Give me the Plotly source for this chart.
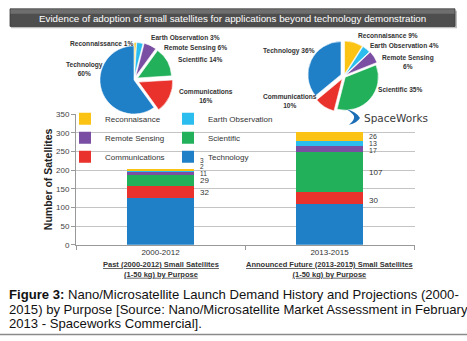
import plotly.graph_objects as go

W, H = 467, 341

# ---------------- data ----------------
periods = ["2000-2012", "2013-2015"]
purposes = ["Technology", "Communications", "Scientific", "Remote Sensing",
            "Earth Observation", "Reconnaisance"]
past_counts = [125, 32, 29, 11, 2, 3]
future_counts = [110, 30, 107, 17, 13, 26]

pie_past_labels = ["Reconnaissance", "Earth Observation", "Remote Sensing",
                   "Scientific", "Communications", "Technology"]
pie_past_pct = [1, 3, 6, 14, 16, 60]
pie_future_labels = ["Reconnaisance", "Earth Observation", "Remote Sensing",
                     "Scientific", "Communications", "Technology"]
pie_future_pct = [9, 4, 6, 35, 10, 36]

period_captions = ["Past (2000-2012) Small Satellites", "Announced Future (2013-2015) Small Satellites"]
period_caption_sub = "(1-50 kg) by Purpose"
banner_title = "Evidence of adoption of small satellites for applications beyond technology demonstration"
y_title = "Number of Satellites"
caption_lines = [
    "<b>Figure 3:</b> Nano/Microsatellite Launch Demand History and Projections (2000-",
    "2015) by Purpose [Source: Nano/Microsatellite Market Assessment in February",
    "2013 - Spaceworks Commercial].",
]
logo_text = "SpaceWorks"

# ---------------- styles ----------------
FONT = "Liberation Sans, Arial, sans-serif"
color_of = {
    "Technology": "#1f80c8",
    "Communications": "#e8322b",
    "Scientific": "#22b05a",
    "Remote Sensing": "#7a4ea3",
    "Earth Observation": "#2bbdee",
    "Reconnaisance": "#fbc313",
    "Reconnaissance": "#fbc313",
}
legend_of = {
    "Technology": "legend2", "Communications": "legend", "Scientific": "legend2",
    "Remote Sensing": "legend", "Earth Observation": "legend2", "Reconnaisance": "legend",
}


def px(x):
    return x / W


def py(y):
    return 1 - y / H


fig = go.Figure()

# stacked bars
for i, p in enumerate(purposes):
    fig.add_trace(go.Bar(
        x=periods, y=[past_counts[i], future_counts[i]], name=p,
        marker=dict(color=color_of[p], line=dict(width=0)),
        legend=legend_of[p], hoverinfo="x+y+name",
    ))


# pies
def add_pie(labels, values, cx, cy, r, pulls):
    mp = max(pulls)
    half = r * (1 + mp)
    fig.add_trace(go.Pie(
        labels=labels, values=values, sort=False, direction="clockwise", rotation=0,
        pull=pulls, textinfo="none", showlegend=False,
        marker=dict(colors=[color_of[l] for l in labels], line=dict(color="white", width=0.6)),
        domain=dict(x=[px(cx - half), px(cx + half)], y=[py(cy + half), py(cy - half)]),
    ))


add_pie(pie_past_labels, pie_past_pct, 134, 78, 35, [0.10, 0.10, 0.12, 0.12, 0.15, 0.0])
add_pie(pie_future_labels, pie_future_pct, 344, 74, 34, [0.06, 0.06, 0.08, 0.05, 0.10, 0.10])

annotations = []

# pie labels
pie_label_style = [
    (pie_past_labels, pie_past_pct,
     [(102, 40.5), (185, 34), (195, 45), (200, 57), (206, 94.5), (84, 66.5)],
     [" ", " ", " ", " ", "<br>", "<br>"]),
    (pie_future_labels, pie_future_pct,
     [(388, 32), (404, 43), (407.5, 59.5), (400, 88), (289.5, 100), (288.5, 48)],
     [" ", " ", "<br>", " ", "<br>", " "]),
]
for labels, pcts, pos, seps in pie_label_style:
    for lab, pc, (x, y), s in zip(labels, pcts, pos, seps):
        annotations.append(dict(
            x=px(x), y=py(y), xref="paper", yref="paper", showarrow=False,
            text=f"<b>{lab}{s}{pc}%</b>", font=dict(family=FONT, size=6.6, color="#333"),
            xanchor="center", yanchor="middle",
        ))

# bar value labels
label_yshift = [[0, 0, 0, 0, 4, 9], [0, -2, 0, -1, 0, 0]]
label_size = [[8, 8, 8, 6.5, 6.5, 6.5], [8, 8, 8, 7, 7, 7]]
for j, counts in enumerate([past_counts, future_counts]):
    cum = 0
    for i, v in enumerate(counts):
        if i > 0:
            annotations.append(dict(
                x=periods[j], y=cum + v / 2, xref="x", yref="y", showarrow=False,
                text=str(v), xanchor="left", yanchor="middle", xshift=37,
                yshift=label_yshift[j][i],
                font=dict(family=FONT, size=label_size[j][i], color="#333"),
            ))
        cum += v

# period captions under the axis
for j, cap in enumerate(period_captions):
    annotations.append(dict(
        x=periods[j], y=py(272.5), xref="x", yref="paper", showarrow=False,
        text=f"<b><u>{cap}</u></b><br><b><u>{period_caption_sub}</u></b>",
        font=dict(family=FONT, size=7.5, color="#333"), xanchor="center", yanchor="middle",
    ))

# banner title
annotations.append(dict(
    x=px(232.5), y=py(14.5), xref="paper", yref="paper", showarrow=False,
    text=banner_title, font=dict(family=FONT, size=9.8, color="white"),
    xanchor="center", yanchor="middle",
))

# logo
annotations.append(dict(
    x=px(362), y=py(117), xref="paper", yref="paper", showarrow=False,
    text=logo_text, font=dict(family="DejaVu Sans, sans-serif", size=10.5, color="#3a3a3a"),
    xanchor="left", yanchor="middle", bgcolor="white",
))

# figure caption
for k, line in enumerate(caption_lines):
    annotations.append(dict(
        x=px(7), y=py(298.5 + 15 * k), xref="paper", yref="paper", showarrow=False,
        text=line, font=dict(family=FONT, size=13.1, color="#111"),
        xanchor="left", yanchor="middle",
    ))

shapes = [
    # banner
    dict(type="rect", xref="paper", yref="paper", x0=px(11), x1=px(457), y0=py(25), y1=py(7),
         fillcolor="#bdbdbd", line=dict(width=0), layer="below"),
    dict(type="rect", xref="paper", yref="paper", x0=px(10), x1=px(455), y0=py(23), y1=py(5),
         fillcolor="#4e4e4e", line=dict(color="#3a3a3a", width=0.8)),
    dict(type="rect", xref="paper", yref="paper", x0=px(10.5), x1=px(454.5), y0=py(10), y1=py(5.5),
         fillcolor="#6e6e6e", line=dict(width=0)),
    # logo swoosh
    dict(type="path", xref="paper", yref="paper",
         path=f"M {px(346)} {py(108)} Q {px(356)} {py(110)} {px(360)} {py(117)} "
              f"Q {px(357)} {py(122)} {px(349)} {py(124)} Q {px(355)} {py(119)} {px(354)} {py(115)} "
              f"Q {px(352)} {py(111)} {px(346)} {py(108)} Z",
         fillcolor="#1b6db5", line=dict(width=0)),
    # bottom border
    dict(type="line", xref="paper", yref="paper", x0=0, x1=1, y0=py(339.5), y1=py(339.5),
         line=dict(color="#8a8a8a", width=1.5)),
]

legend_common = dict(
    bgcolor="rgba(0,0,0,0)", font=dict(family=FONT, size=8, color="#333"),
    traceorder="reversed", orientation="v", xanchor="left", yanchor="top",
    tracegroupgap=0, itemwidth=30, itemclick=False, itemdoubleclick=False,
)

fig.update_layout(
    width=W, height=H, margin=dict(l=0, r=0, t=0, b=0),
    paper_bgcolor="white", plot_bgcolor="white",
    barmode="stack", bargap=0.6,
    font=dict(family=FONT, color="#333"),
    xaxis=dict(domain=[px(76), px(415)], showline=True, linecolor="#999", linewidth=1,
               ticks="outside", tickson="boundaries", ticklen=4, tickcolor="#999",
               tickfont=dict(size=8, color="#333"), showgrid=False),
    yaxis=dict(domain=[py(247.3), py(113)], range=[0, 350], dtick=50,
               showgrid=True, gridcolor="#c4c4c4", gridwidth=1, zeroline=False,
               showline=True, linecolor="#999", ticks="outside", ticklen=4, tickcolor="#999",
               tickfont=dict(size=8, color="#444"),
               title=dict(text=f"<b>{y_title}</b>", font=dict(size=10.5, color="#222"), standoff=1)),
    legend=dict(x=px(65), y=py(103), **legend_common),
    legend2=dict(x=px(168), y=py(103), **legend_common),
    annotations=annotations, shapes=shapes,
)

fig.write_html("out.html", config={"displayModeBar": False},
               post_script="document.body.style.margin='0';document.body.style.overflow='hidden';")
